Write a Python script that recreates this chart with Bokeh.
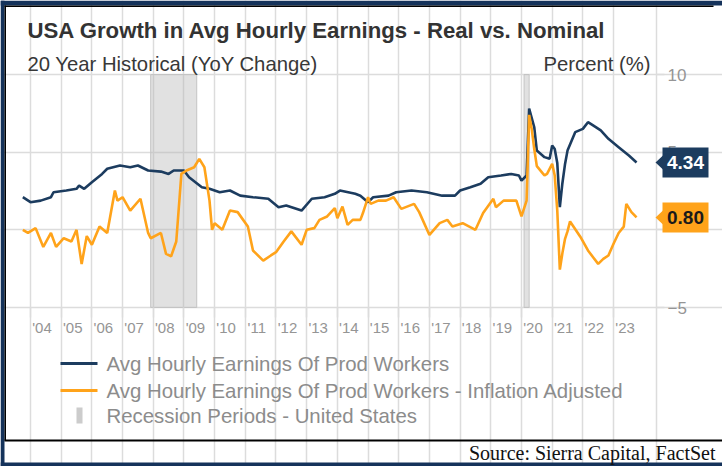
from bokeh.plotting import figure
from bokeh.models import FixedTicker, Range1d
from bokeh.core.properties import value
from bokeh.embed import file_html
from bokeh.resources import INLINE

# ---------------- data ----------------
nominal_months = ["2003-10", "2004-01", "2004-05", "2004-09", "2004-10", "2005-03", "2005-07", "2005-08",
                  "2005-10", "2006-01", "2006-05", "2006-07", "2006-12", "2007-04", "2007-07", "2007-11",
                  "2008-04", "2008-07", "2008-09", "2009-01", "2009-03", "2009-08", "2009-11", "2010-03",
                  "2010-07", "2010-11", "2011-04", "2011-10", "2012-02", "2012-05", "2012-11", "2013-03",
                  "2013-08", "2013-12", "2014-02", "2014-08", "2014-10", "2015-01", "2015-03", "2015-09",
                  "2015-12", "2016-06", "2016-12", "2017-06", "2017-11", "2018-01", "2018-05", "2018-09",
                  "2018-12", "2019-05", "2019-09", "2019-12", "2020-01", "2020-03", "2020-04", "2020-06",
                  "2020-07", "2020-10", "2020-12", "2021-01", "2021-02", "2021-03", "2021-04", "2021-05",
                  "2021-06", "2021-07", "2021-10", "2022-01", "2022-03", "2022-05", "2022-08", "2022-11",
                  "2023-03", "2023-07", "2023-10"]
nominal_values = [2.1, 1.78, 1.88, 2.1, 2.42, 2.53, 2.64, 2.85,
                  2.64, 3.07, 3.6, 3.93, 4.14, 4.03, 4.14, 3.82,
                  3.75, 3.6, 3.82, 3.82, 3.39, 2.74, 2.64, 2.42,
                  2.53, 2.2, 2.1, 2.0, 1.46, 1.57, 1.24, 2.0,
                  2.1, 2.32, 2.53, 2.32, 2.2, 1.78, 2.1, 2.2,
                  2.42, 2.53, 2.42, 2.2, 2.2, 2.53, 2.74, 2.96,
                  3.39, 3.5, 3.6, 3.5, 3.17, 3.5, 7.8, 6.6,
                  5.1, 4.68, 4.57, 5.43, 5.2, 4.3, 1.46, 3.0,
                  4.2, 5.1, 6.29, 6.5, 6.93, 6.72, 6.4, 5.86,
                  5.32, 4.78, 4.34]

real_months = ["2003-10", "2003-12", "2004-03", "2004-06", "2004-09", "2004-11", "2005-02", "2005-05",
               "2005-07", "2005-09", "2005-11", "2006-01", "2006-04", "2006-07", "2006-10", "2006-11",
               "2007-01", "2007-04", "2007-08", "2007-11", "2007-12", "2008-04", "2008-06", "2008-08",
               "2008-10", "2008-12", "2009-02", "2009-05", "2009-07", "2009-09", "2009-11", "2009-12",
               "2010-01", "2010-04", "2010-07", "2010-10", "2011-02", "2011-04", "2011-08", "2011-11",
               "2012-01", "2012-04", "2012-07", "2012-11", "2013-01", "2013-04", "2013-06", "2013-09",
               "2013-12", "2014-01", "2014-03", "2014-05", "2014-07", "2014-10", "2014-11", "2015-01",
               "2015-02", "2015-05", "2015-08", "2015-11", "2016-02", "2016-07", "2016-09", "2017-01",
               "2017-05", "2017-08", "2017-10", "2018-02", "2018-07", "2018-10", "2019-02", "2019-03",
               "2019-06", "2019-11", "2020-01", "2020-03", "2020-04", "2020-05", "2020-06", "2020-07",
               "2020-09", "2020-10", "2020-11", "2021-01", "2021-02", "2021-03", "2021-04", "2021-05",
               "2021-06", "2021-07", "2021-08", "2021-12", "2022-03", "2022-05", "2022-07", "2022-09",
               "2022-11", "2023-01", "2023-03", "2023-05", "2023-06", "2023-08", "2023-10"]
real_values = [0.0, -0.2, 0.11, -1.1, -0.2, -1.1, -0.54, -0.75,
               0.0, -2.2, -0.4, -0.96, 0.21, -0.2, 2.53, 1.88,
               2.1, 1.24, 2.0, -0.2, -0.54, -0.2, -1.55, -1.7,
               -0.75, 3.6, 3.82, 4.03, 4.57, 4.03, 1.88, 0.0,
               0.43, 0.0, 1.24, 1.14, 0.21, -1.33, -1.98, -1.65,
               -1.44, -0.75, -0.1, -0.96, 0.0, 0.11, 0.64, 0.86,
               1.4, 0.75, 1.5, 0.32, 0.64, 0.64, 1.08, 2.1,
               1.67, 1.88, 1.88, 2.1, 1.35, 1.67, 1.14, -0.33,
               0.43, 0.64, 0.21, 0.43, 0.0, 1.08, 2.0, 1.46,
               1.88, 1.88, 0.86, 1.88, 7.4, 6.5, 5.2, 4.1,
               3.7, 3.5, 3.6, 4.25, 3.5, 1.24, -2.56, -1.5,
               -0.6, -0.1, 0.54, -0.44, -1.33, -1.76, -2.19, -1.87,
               -1.65, -0.9, -0.2, 0.21, 1.67, 1.14, 0.80]

recession_start = ["2007-12", "2020-02"]
recession_end = ["2009-06", "2020-04"]

year_ticks = list(range(2004, 2024))
year_labels = ["'04", "'05", "'06", "'07", "'08", "'09", "'10", "'11", "'12", "'13",
               "'14", "'15", "'16", "'17", "'18", "'19", "'20", "'21", "'22", "'23"]
y_ticks = [-5, 0, 5, 10]

title_text = "USA Growth in Avg Hourly Earnings - Real vs. Nominal"
subtitle_text = "20 Year Historical (YoY Change)"
unit_text = "Percent (%)"
series_names = ["Avg Hourly Earnings Of Prod Workers",
                "Avg Hourly Earnings Of Prod Workers - Inflation Adjusted",
                "Recession Periods - United States"]
source_text = "Source: Sierra Capital, FactSet"


def to_year(s):
    y, m = s.split("-")
    return int(y) + (int(m) - 1) / 12.0


# ---------------- style / geometry ----------------
NAVY = "#1c3c5f"
ORANGE = "#ffa31a"
BORDER_NAVY = "#15335b"
GRID = "#dcdcdc"
AXIS_TEXT = "#959595"
LEG_TEXT = "#8c8c8c"
FONT = "Liberation Sans"

W, H = 722, 466
# plotting area in canvas pixels and its data extents
PL, PR, PT, PB = 20, 656, 74, 307
X_LEFT, X_RIGHT = 2003.674, 2024.40
Y_MIN, Y_MAX = -5, 10
PPX = (PR - PL) / (X_RIGHT - X_LEFT)
PPY = (PB - PT) / (Y_MAX - Y_MIN)

p = figure(width=W, height=H, output_backend="svg", toolbar_location=None, tools="",
           x_range=Range1d(X_LEFT - PL / PPX, X_RIGHT + (W - PR) / PPX),
           y_range=Range1d(Y_MIN - (H - PB) / PPY, Y_MAX + PT / PPY),
           y_axis_location="right", x_axis_location="below",
           min_border=0, min_border_left=0, min_border_right=0,
           min_border_top=0, min_border_bottom=0)
p.extra_x_ranges = {"px": Range1d(0, W)}
p.extra_y_ranges = {"px": Range1d(H, 0)}
p.outline_line_color = None
p.background_fill_color = "white"
p.border_fill_color = "white"

# grids
p.xgrid.ticker = FixedTicker(ticks=year_ticks + [X_RIGHT])
p.xgrid.bounds = (Y_MIN, Y_MAX)
p.ygrid.ticker = FixedTicker(ticks=y_ticks)
p.ygrid.bounds = (X_LEFT, X_RIGHT)
p.grid.grid_line_color = GRID
p.grid.grid_line_width = 1.5

# recessions
p.quad(left=[to_year(s) for s in recession_start], right=[to_year(e) for e in recession_end],
       bottom=Y_MIN, top=Y_MAX, fill_color="#b4b4b4", fill_alpha=0.4,
       line_color="#c4c4c4", line_width=1)

# series
p.line([to_year(m) for m in nominal_months], nominal_values, line_color=NAVY, line_width=2.6)
p.line([to_year(m) for m in real_months], real_values, line_color=ORANGE, line_width=2.6)

# x axis (drawn at y = -5)
xa = p.xaxis[0]
lab_ticks = [y + 0.375 for y in year_ticks]
xa.fixed_location = Y_MIN
xa.ticker = FixedTicker(ticks=lab_ticks, minor_ticks=year_ticks)
xa.major_label_overrides = {t: lab for t, lab in zip(lab_ticks, year_labels)}
xa.major_tick_out = 0
xa.major_tick_in = 0
xa.minor_tick_out = 10
xa.minor_tick_in = 0
xa.minor_tick_line_color = GRID
xa.minor_tick_line_width = 1.5
xa.axis_line_color = None
xa.major_label_text_color = AXIS_TEXT
xa.major_label_text_font = FONT
xa.major_label_text_font_size = "15px"
xa.major_label_standoff = 1

# y axis (drawn at right edge of plotting area); the 0 label sits under the tag
ya = p.yaxis[0]
ya.fixed_location = X_RIGHT
ya.ticker = FixedTicker(ticks=y_ticks)
ya.major_label_overrides = {0: ""}
ya.major_tick_out = 8
ya.major_tick_in = 0
ya.minor_tick_out = 0
ya.minor_tick_in = 0
ya.major_tick_line_color = GRID
ya.major_tick_line_width = 1.5
ya.axis_line_color = None
ya.major_label_text_color = AXIS_TEXT
ya.major_label_text_font = FONT
ya.major_label_text_font_size = "17px"
ya.major_label_standoff = 3


# ---------------- decorations in canvas pixels ----------------
def pbox(x0, x1, y0, y1, color):
    p.quad(left=[x0], right=[x1], top=[y0], bottom=[y1], x_range_name="px", y_range_name="px",
           fill_color=color, line_color=None)


def ptext(x, y, s, size, color, align="left", baseline="alphabetic", style="normal", font=FONT):
    p.text(x=[x], y=[y], text=[s], x_range_name="px", y_range_name="px",
           text_font=value(font), text_font_size=f"{size}px", text_color=color,
           text_align=align, text_baseline=baseline, text_font_style=style)


# frame borders
pbox(0, W, 0, 5, BORDER_NAVY)
pbox(4, 713, 5, 6.5, "#000000")
pbox(0, 4, 0, H, BORDER_NAVY)
pbox(4, 5.5, 5, 440, "#000000")
pbox(4, W, 439, 441, "#000000")
pbox(0, W, 462, H, BORDER_NAVY)

# titles
ptext(27, 30, title_text, 22.2, "#333333", style="bold")
ptext(27, 63, subtitle_text, 20.3, "#383838")
ptext(650, 63, unit_text, 20.3, "#383838", align="right")

# value tags (last values), drawn over the axis labels
for val, fill, tc in [(nominal_values[-1], NAVY, "white"), (real_values[-1], ORANGE, "#1a1a1a")]:
    p.patch(x=[655, 662.5, 662.5], y=[val, val + 0.45, val - 0.45], x_range_name="px",
            fill_color=fill, line_color=None, level="overlay")
    p.rect(x=[685], y=[val], width=46, height=30, width_units="screen", height_units="screen",
           x_range_name="px", fill_color=fill, line_color=None, level="overlay")
    p.text(x=[685], y=[val], text=[f"{val:.2f}"], x_range_name="px",
           text_font=value(FONT), text_font_size="19px", text_font_style="bold",
           text_color=tc, text_align="center", text_baseline="middle", level="overlay")

# legend
pbox(60, 97, 361.5, 364.5, NAVY)
ptext(106, 363, series_names[0], 20.4, LEG_TEXT, baseline="middle")
pbox(60, 97, 388.5, 391.5, ORANGE)
ptext(106, 390, series_names[1], 20.4, LEG_TEXT, baseline="middle")
pbox(76, 82, 407, 423, "#cccccc")
ptext(106, 415, series_names[2], 20.4, LEG_TEXT, baseline="middle")

# source
ptext(715, 452, source_text, 20, "#111111", align="right", baseline="middle",
      font="Liberation Serif")

open("out.html", "w").write(file_html(p, INLINE))
